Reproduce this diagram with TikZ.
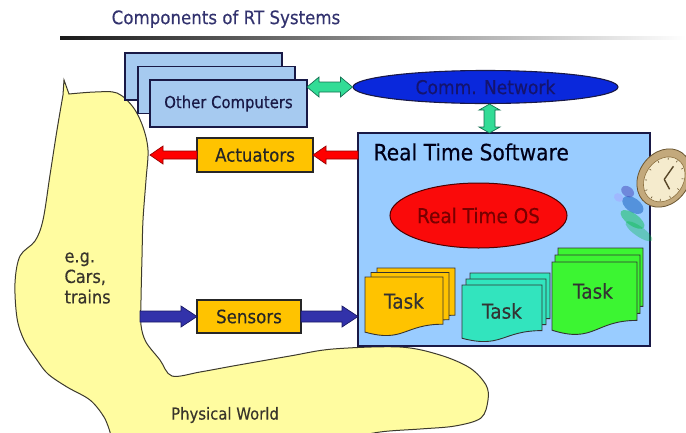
\documentclass[tikz,border=0pt]{standalone}
\usepackage{fontspec}
\setmainfont{DejaVu Sans}[FakeStretch=0.9, FakeBold=0.35]
\usetikzlibrary{calc,shapes.geometric}

\definecolor{pcblue}{RGB}{166,202,240}
\definecolor{rtsblue}{RGB}{153,204,255}
\definecolor{rim}{RGB}{25,25,70}
\definecolor{amber}{RGB}{255,195,0}
\definecolor{sand}{RGB}{255,252,160}
\definecolor{netblue}{RGB}{10,40,220}
\definecolor{nettext}{RGB}{20,20,110}
\definecolor{osred}{RGB}{250,10,10}
\definecolor{ostext}{RGB}{120,0,0}
\definecolor{linkgreen}{RGB}{50,220,150}
\definecolor{linkrim}{RGB}{20,110,80}
\definecolor{taskteal}{RGB}{50,228,190}
\definecolor{taskgreen}{RGB}{60,245,50}
\definecolor{sensblue}{RGB}{50,50,170}
\definecolor{sensrim}{RGB}{25,25,100}
\definecolor{actrim}{RGB}{150,0,0}
\definecolor{titleink}{RGB}{50,50,110}
\definecolor{clockrim}{RGB}{175,140,80}
\definecolor{clockface}{RGB}{245,235,205}

% single-headed horizontal block arrow: style, from, tip, shaft half, head half, head length
\newcommand\sarrow[6]{%
  \filldraw[#1] let \p1=#2, \p2=#3, \n1={ifthenelse(\x2>\x1,1,-1)} in
    (\x1,{\y1+#4pt}) -- ({\x2-\n1*#6pt},{\y1+#4pt}) -- ({\x2-\n1*#6pt},{\y1+#5pt})
    -- (\x2,\y1) -- ({\x2-\n1*#6pt},{\y1-#5pt}) -- ({\x2-\n1*#6pt},{\y1-#4pt})
    -- (\x1,{\y1-#4pt}) -- cycle;}
% double-headed horizontal block arrow
\newcommand\dharrow[6]{%
  \filldraw[#1] let \p1=#2, \p2=#3, \n1={ifthenelse(\x2>\x1,1,-1)} in
    (\x1,\y1) -- ({\x1+\n1*#6pt},{\y1+#5pt}) -- ({\x1+\n1*#6pt},{\y1+#4pt})
    -- ({\x2-\n1*#6pt},{\y1+#4pt}) -- ({\x2-\n1*#6pt},{\y1+#5pt}) -- (\x2,\y1)
    -- ({\x2-\n1*#6pt},{\y1-#5pt}) -- ({\x2-\n1*#6pt},{\y1-#4pt})
    -- ({\x1+\n1*#6pt},{\y1-#4pt}) -- ({\x1+\n1*#6pt},{\y1-#5pt}) -- cycle;}
% double-headed vertical block arrow
\newcommand\dvarrow[6]{%
  \filldraw[#1] let \p1=#2, \p2=#3, \n1={ifthenelse(\y2>\y1,1,-1)} in
    (\x1,\y1) -- ({\x1+#5pt},{\y1+\n1*#6pt}) -- ({\x1+#4pt},{\y1+\n1*#6pt})
    -- ({\x1+#4pt},{\y2-\n1*#6pt}) -- ({\x1+#5pt},{\y2-\n1*#6pt}) -- (\x1,\y2)
    -- ({\x1-#5pt},{\y2-\n1*#6pt}) -- ({\x1-#4pt},{\y2-\n1*#6pt})
    -- ({\x1-#4pt},{\y1+\n1*#6pt}) -- ({\x1-#5pt},{\y1+\n1*#6pt}) -- cycle;}

% one "document" sheet with a wavy lower edge: x, y (top left), width, height, fill
\newcommand\docsheet[5]{%
  \begin{scope}[shift={(#1,#2)}]
    \filldraw[sheet, fill=#5] (0,0) -- (#3,0) -- (#3,{0.8*#4})
      .. controls ({0.5*#3},{0.8*#4}) and ({0.5*#3},{1.12*#4}) .. (0,{0.934*#4}) -- cycle;
  \end{scope}}
% stack of three sheets: x, y, width, height, dx, dy, fill
\newcommand\docstack[7]{%
  \docsheet{#1+2*#5}{#2-2*#6}{#3}{#4}{#7}
  \docsheet{#1+#5}{#2-#6}{#3}{#4}{#7}
  \docsheet{#1}{#2}{#3}{#4}{#7}}

\begin{document}
\begin{tikzpicture}[x=1pt,y=-1pt,
  sheet/.style={draw=black!80, line width=0.9pt},
  pcbox/.style={draw=rim, line width=1.1pt, fill=pcblue, inner sep=0pt, outer sep=0pt,
    minimum width=157pt, minimum height=47pt},
  iobox/.style={draw=black!85, line width=1.1pt, fill=amber, inner sep=0pt, outer sep=0pt,
    text=black!85, font=\fontsize{18.5}{21}\selectfont},
  redarrow/.style={fill=red, draw=actrim, line width=0.7pt},
  bluearrow/.style={fill=sensblue, draw=sensrim, line width=0.7pt},
  greenarrow/.style={fill=linkgreen, draw=linkrim, line width=0.7pt},
  world/.style={fill=sand, draw=black!75!olive, line width=1pt},
  tasklabel/.style={font=\fontsize{20.5}{23}\selectfont, text=black!80}]
\useasboundingbox (0,0) rectangle (686,432);
\clip (0,0) rectangle (686,432);

% heading and its fading rule
\node[text=titleink, font=\fontsize{18.5}{21}\selectfont] (title) at (226,19) {Components of RT Systems};
\shade[left color=black!90, middle color=black!45, right color=white] (60,36.6) rectangle (686,39.6);

% the physical world
\filldraw[world] (64,80) -- (69,94) -- plot[smooth, tension=0.55] coordinates {(69,94) (95,92) (117,93)
  (133,107) (143,127) (148,150) (146,180) (143,220) (142,257) (141,300) (141,325) (146,342)
  (160,360) (172,376) (200,372) (233,366) (290,356) (333,349) (400,347) (440,355) (470,368)
  (486,385) (488,400) (481,418) (455,426) (420,429) (380,432) (340,440)}
  -- (110,445) -- plot[smooth, tension=0.55] coordinates {(110,432) (104,417) (90,400) (67,387)
  (48,374) (37,360) (24,340) (17,318) (15,283) (20,256) (35,241) (43,220) (50,175) (57,130) (63,95)}
  -- cycle;
\node[align=left, anchor=west, text=black!80!olive, font=\fontsize{18}{20.5}\selectfont] (eg) at (61,278) {e.g.\\Cars,\\trains};
\node[text=black!80!olive, font=\fontsize{16.5}{19}\selectfont] (pw) at (225,415) {Physical World};

% other computers
\node[pcbox] (oc3) at (203.5,76.5) {};
\node[pcbox] (oc2) at (216.5,90) {};
\node[pcbox, text=rim, font=\fontsize{16.5}{19}\selectfont] (oc) at (228.5,103.5) {Other Computers};

% network
\node[ellipse, draw=rim, line width=1.1pt, fill=netblue, inner sep=0pt, minimum width=265pt,
  minimum height=33pt, text=nettext, font=\fontsize{19}{22}\selectfont] (net) at (485.5,87) {Comm. Network};

% real time software box
\node[draw=rim, line width=1.2pt, fill=rtsblue, inner sep=0pt, outer sep=0pt,
  minimum width=292pt, minimum height=213pt] (rts) at (504,239.5) {};
\node[anchor=west, text=black!90!blue, font=\fontsize{22.5}{26}\selectfont] (rtstitle) at (370,152) {Real Time Software};
\node[ellipse, draw=black!70!red, line width=1pt, fill=osred, inner sep=0pt, minimum width=177pt,
  minimum height=65pt, text=ostext, font=\fontsize{20.5}{23}\selectfont] (os) at (478.5,215.5) {Real Time OS};

% tasks
\docstack{365}{277}{78}{59}{6}{4.5}{amber}
\node[tasklabel] (t1) at (404,301) {Task};
\docstack{462}{285}{80}{57}{4}{6}{taskteal}
\node[tasklabel] (t2) at (502,311) {Task};
\docstack{552}{262}{85}{73}{3}{7}{taskgreen}
\node[tasklabel] (t3) at (593,291) {Task};

% melting clock
\begin{scope}[shift={(664,178)}, rotate=-35]
  \fill[blue!40!teal, opacity=0.45] (-10,40) ellipse (12 and 7);
  \fill[teal!50!green, opacity=0.45] (-2,52) ellipse (14 and 6);
  \fill[blue!45!gray, opacity=0.5] (-22,32) ellipse (7 and 5);
  \fill[green!45!teal, opacity=0.35] (10,58) ellipse (16 and 5);
  \fill[blue!35!white, opacity=0.5] (-26,42) ellipse (5 and 4);
  \filldraw[fill=clockrim!75, draw=clockrim!60!black, line width=0.8pt] (0,0) ellipse (25 and 31);
  \filldraw[fill=clockface, draw=clockrim!80!black, line width=0.6pt] (1,1) ellipse (19 and 24);
  \foreach \a in {0,30,...,330}
    \draw[clockrim!60!black, line width=0.6pt] ({1+16*cos(\a)},{1+21*sin(\a)}) -- ({1+18*cos(\a)},{1+23*sin(\a)});
  \draw[clockrim!50!black, line width=1.4pt] (1,1) -- (1,-15) (1,1) -- (11,6);
\end{scope}

% actuator and sensor boxes
\node[iobox, minimum width=116pt, minimum height=34pt] (act) at (255,155) {Actuators};
\node[iobox, minimum width=104pt, minimum height=33pt] (sen) at (249,316.5) {Sensors};

% connectors
\coordinate (actend) at (150,155);
\coordinate (sensstart) at (140,316.5);
\sarrow{redarrow}{(rts.west |- act.east)}{(act.east)}{4}{9}{13}
\sarrow{redarrow}{(act.west)}{(actend)}{4}{9}{13}
\sarrow{bluearrow}{(sensstart)}{(sen.west)}{5.5}{10.5}{16}
\sarrow{bluearrow}{(sen.east)}{(rts.west |- sen.east)}{5.5}{10.5}{16}
\dharrow{greenarrow}{(oc.east |- net.west)}{(net.west)}{5}{10}{12}
\coordinate (netlink) at ($(net.south)+(4,0)$);
\dvarrow{greenarrow}{(netlink)}{(rts.north -| netlink)}{5.5}{10.5}{6}
\end{tikzpicture}
\end{document}
